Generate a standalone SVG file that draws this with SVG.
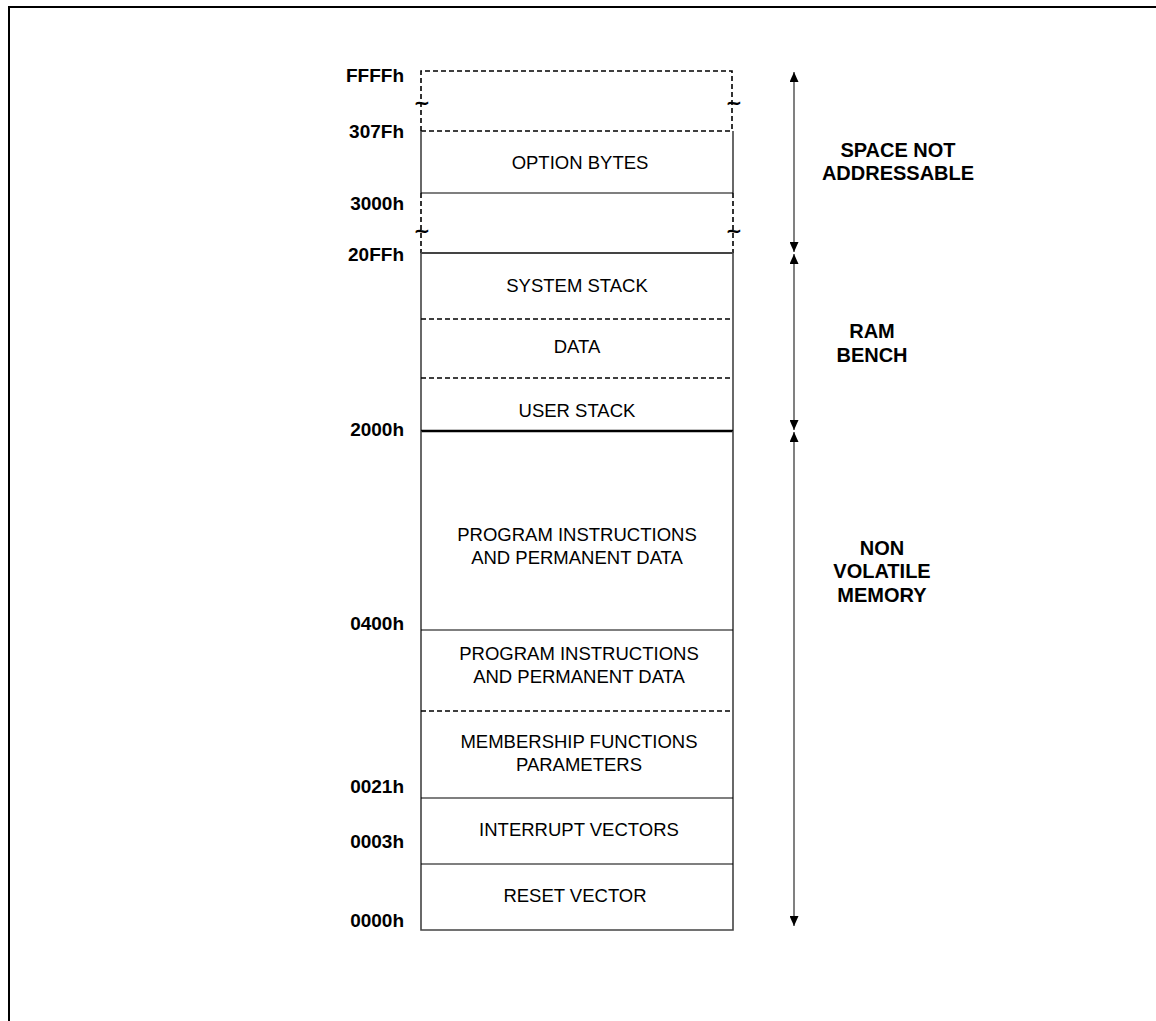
<svg xmlns="http://www.w3.org/2000/svg" width="1156" height="1021" viewBox="0 0 1156 1021">
<defs>
<style>
.addr{font-family:"Liberation Sans",Arial,sans-serif;font-weight:bold;font-size:19px;text-anchor:end;fill:#000}
.lbl{font-family:"Liberation Sans",Arial,sans-serif;font-size:18.5px;text-anchor:middle;fill:#000}
.side{font-family:"Liberation Sans",Arial,sans-serif;font-weight:bold;font-size:20px;text-anchor:middle;fill:#000}
.tilde{font-family:"DejaVu Sans",sans-serif;font-weight:bold;font-size:20px;text-anchor:middle;fill:#000}
.sep{stroke:#000;stroke-width:1.2;fill:none}
.dash{stroke:#000;stroke-width:1.6;stroke-dasharray:5,3;fill:none}
.wall{stroke:#444;stroke-width:1.6;fill:none}
.arr{stroke:#808080;stroke-width:2;fill:none;marker-start:url(#ah);marker-end:url(#ah)}
</style>
<marker id="ah" viewBox="0 0 10 10" refX="10" refY="5" markerWidth="5" markerHeight="4.5" markerUnits="strokeWidth" orient="auto-start-reverse" preserveAspectRatio="none">
<path d="M0,0 L10,5 L0,10 z" fill="#000"/>
</marker>
</defs>
<rect x="9" y="7" width="1160" height="1030" fill="none" stroke="#000" stroke-width="2"/>

<g id="space-not-addressable-region">
<path class="dash" d="M421,131 V71 H732 V131"/>
<path class="dash" d="M421,131 H733"/>
<path class="dash" d="M421,193 V253 M733,193 V253"/>
<text class="tilde" x="422" y="109">~</text>
<text class="tilde" x="734" y="109">~</text>
<text class="tilde" x="422" y="237">~</text>
<text class="tilde" x="734" y="237">~</text>
</g>

<g id="option-bytes">
<path class="wall" d="M421,131 V193 M733,131 V193"/>
<line class="sep" x1="421" y1="193" x2="733" y2="193"/>
<text class="lbl" x="580" y="169">OPTION BYTES</text>
</g>

<g id="ram">
<line x1="421" y1="253" x2="733" y2="253" stroke="#444" stroke-width="2"/>
<path class="wall" d="M421,253 V431 M733,253 V431"/>
<text class="lbl" x="577" y="292">SYSTEM STACK</text>
<line class="dash" x1="421" y1="319" x2="733" y2="319"/>
<text class="lbl" x="577" y="353">DATA</text>
<line class="dash" x1="421" y1="378" x2="733" y2="378"/>
<text class="lbl" x="577" y="417">USER STACK</text>
</g>

<g id="nvm">
<line x1="421" y1="431" x2="733" y2="431" stroke="#000" stroke-width="2.4"/>
<path class="wall" d="M421,431 V930 H733 V431"/>
<text class="lbl" x="577" y="541">PROGRAM INSTRUCTIONS</text>
<text class="lbl" x="577" y="564">AND PERMANENT DATA</text>
<line class="sep" x1="421" y1="630" x2="733" y2="630"/>
<text class="lbl" x="579" y="660">PROGRAM INSTRUCTIONS</text>
<text class="lbl" x="579" y="683">AND PERMANENT DATA</text>
<line class="dash" x1="421" y1="711" x2="733" y2="711"/>
<text class="lbl" x="579" y="748">MEMBERSHIP FUNCTIONS</text>
<text class="lbl" x="579" y="771">PARAMETERS</text>
<line class="sep" x1="421" y1="798" x2="733" y2="798"/>
<text class="lbl" x="579" y="836">INTERRUPT VECTORS</text>
<line class="sep" x1="421" y1="864" x2="733" y2="864"/>
<text class="lbl" x="575" y="902">RESET VECTOR</text>
</g>

<g id="addresses">
<text class="addr" x="404" y="82">FFFFh</text>
<text class="addr" x="404" y="138">307Fh</text>
<text class="addr" x="404" y="210">3000h</text>
<text class="addr" x="404" y="261">20FFh</text>
<text class="addr" x="404" y="436">2000h</text>
<text class="addr" x="404" y="630">0400h</text>
<text class="addr" x="404" y="793">0021h</text>
<text class="addr" x="404" y="848">0003h</text>
<text class="addr" x="404" y="927">0000h</text>
</g>

<g id="connectors">
<line class="arr" x1="794" y1="72" x2="794" y2="252"/>
<line class="arr" x1="794" y1="254" x2="794" y2="430"/>
<line class="arr" x1="794" y1="432" x2="794" y2="926"/>
</g>

<g id="side-labels">
<text class="side" x="898" y="157">SPACE NOT</text>
<text class="side" x="898" y="180">ADDRESSABLE</text>
<text class="side" x="872" y="338">RAM</text>
<text class="side" x="872" y="362">BENCH</text>
<text class="side" x="882" y="555">NON</text>
<text class="side" x="882" y="578">VOLATILE</text>
<text class="side" x="882" y="602">MEMORY</text>
</g>
</svg>
